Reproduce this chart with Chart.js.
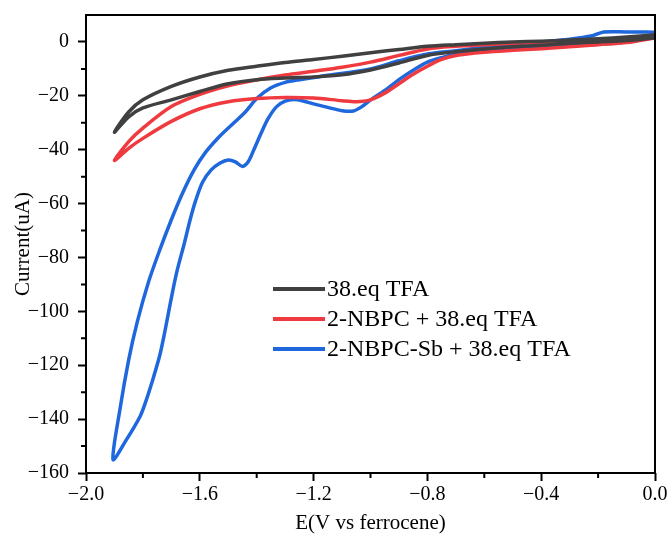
<!DOCTYPE html>
<html>
<head>
<meta charset="utf-8">
<script src="https://cdn.jsdelivr.net/npm/chart.js@4.4.0/dist/chart.umd.min.js"></script>
<style>
  html, body { margin: 0; padding: 0; background: #fff; }
  #wrap { width: 671px; height: 542px; position: relative; }
</style>
</head>
<body>
<div id="wrap"><canvas id="cv"></canvas></div>
<script>
// CV loops: start at 0 V, sweep to -1.9 V, then back to 0 V
const tfaE = [0.0, -0.1, -0.2, -0.3, -0.4, -0.5, -0.6, -0.7, -0.8, -0.9, -1.0, -1.1, -1.2, -1.3, -1.4, -1.5, -1.6, -1.7, -1.8, -1.85, -1.9,
              -1.85, -1.8, -1.7, -1.6, -1.5, -1.4, -1.3, -1.2, -1.1, -1.0, -0.9, -0.8, -0.7, -0.6, -0.5, -0.4, -0.3, -0.2, -0.1, 0.0];
const tfaI = [1.5, 0.5, 0.0, -0.5, -1.2, -1.8, -2.6, -3.6, -5.0, -7.8, -10.4, -12.2, -13.0, -13.4, -14.0, -15.5, -18.4, -21.5, -24.5, -27.8, -33.5,
              -26.0, -21.5, -16.5, -13.0, -10.5, -9.0, -7.6, -6.5, -5.3, -4.0, -2.8, -1.6, -1.0, -0.5, 0.0, 0.3, 0.7, 1.2, 1.8, 2.6];

const nbpcE = [0.0, -0.1, -0.2, -0.3, -0.4, -0.5, -0.6, -0.7, -0.75, -0.8, -0.85, -0.9, -0.95, -1.0, -1.05, -1.1, -1.2, -1.3, -1.4, -1.5, -1.6, -1.7, -1.8, -1.85, -1.9,
               -1.85, -1.8, -1.7, -1.6, -1.5, -1.4, -1.3, -1.2, -1.1, -1.0, -0.9, -0.8, -0.7, -0.6, -0.5, -0.4, -0.3, -0.2, -0.1, 0.0];
const nbpcI = [1.5, -0.2, -1.0, -1.8, -2.5, -3.1, -3.8, -5.0, -6.5, -9.0, -12.0, -15.5, -19.0, -21.5, -22.2, -21.8, -20.8, -20.6, -21.0, -22.2, -24.8, -29.5, -35.8, -39.5, -44.0,
               -37.0, -32.0, -24.0, -19.5, -16.3, -14.1, -12.3, -10.9, -9.4, -7.5, -5.0, -2.6, -1.6, -1.0, -0.5, 0.0, 0.4, 0.9, 1.5, 2.5];

const sbE = [0.0, -0.05, -0.1, -0.2, -0.3, -0.4, -0.5, -0.6, -0.7, -0.75, -0.8, -0.85, -0.9, -0.95, -1.0, -1.03, -1.06, -1.1, -1.15, -1.2, -1.24, -1.27, -1.3, -1.33, -1.36, -1.385, -1.41, -1.43, -1.45, -1.475, -1.5, -1.53, -1.56, -1.59, -1.615, -1.634, -1.655, -1.68, -1.7, -1.72, -1.74, -1.77, -1.79, -1.81, -1.86, -1.905,
             -1.88, -1.85, -1.82, -1.78, -1.74, -1.7, -1.66, -1.62, -1.58, -1.53, -1.48, -1.44, -1.4, -1.35, -1.3, -1.25, -1.15, -1.0, -0.9, -0.8, -0.7, -0.6, -0.5, -0.4, -0.3, -0.22, -0.18, -0.1, -0.03, 0.0];
const sbI = [2.5, 1.2, 0.0, -0.9, -1.5, -2.0, -2.7, -3.3, -4.6, -5.8, -7.5, -10.5, -14.0, -18.0, -21.5, -24.0, -25.6, -25.5, -24.3, -23.0, -21.8, -21.4, -22.0, -24.0, -28.5, -34.0, -40.0, -44.5, -46.2, -44.5, -43.8, -45.0, -47.5, -52.0, -59.0, -66.0, -75.0, -85.0, -95.0, -106.0, -116.0, -127.0, -133.5, -139.0, -148.0, -155.0,
             -136.0, -118.0, -104.0, -89.0, -77.0, -66.0, -56.0, -47.5, -41.0, -35.0, -30.0, -26.0, -21.0, -17.0, -15.0, -14.0, -12.4, -10.0, -7.0, -4.5, -3.3, -2.0, -0.8, 0.0, 1.0, 2.3, 3.7, 3.7, 3.7, 3.5];

const seriesNames = ['38.eq TFA', '2-NBPC + 38.eq TFA', '2-NBPC-Sb + 38.eq TFA'];
const seriesColors = ['#404040', '#ef3b3f', '#1f67dc'];

const xTicks = [-2.0, -1.6, -1.2, -0.8, -0.4, 0.0];
const xMinor = [-1.8, -1.4, -1.0, -0.6, -0.2];
const yTicks = [-160, -140, -120, -100, -80, -60, -40, -20, 0];
const yMinor = [-150, -130, -110, -90, -70, -50, -30, -10];

const serif = "'Liberation Serif', 'Times New Roman', serif";
const minus = v => (v < 0 ? '\u2212' : '') + Math.abs(v);

function pts(E, I) {
    return E.map((e, i) => ({ x: e, y: I[i] }));
}

// box around the plot, short minor ticks and the legend inside the plot
const extras = {
    id: 'extras',
    afterDraw(chart) {
        const { ctx, chartArea: a, scales } = chart;
        ctx.save();
        ctx.strokeStyle = '#000';
        ctx.lineWidth = 2;
        ctx.strokeRect(a.left, a.top, a.right - a.left, a.bottom - a.top);

        ctx.beginPath();
        xMinor.forEach(v => {
            const px = scales.x.getPixelForValue(v);
            ctx.moveTo(px, a.bottom);
            ctx.lineTo(px, a.bottom + 5);
        });
        yMinor.forEach(v => {
            const py = scales.y.getPixelForValue(v);
            ctx.moveTo(a.left, py);
            ctx.lineTo(a.left - 5, py);
        });
        ctx.stroke();

        const lx = a.left + 187, ly = a.top + 274, gap = 30;
        ctx.font = '24px ' + serif;
        ctx.textBaseline = 'middle';
        ctx.fillStyle = '#000';
        seriesNames.forEach((name, i) => {
            const y = ly + i * gap;
            ctx.strokeStyle = seriesColors[i];
            ctx.lineWidth = 4;
            ctx.beginPath();
            ctx.moveTo(lx, y);
            ctx.lineTo(lx + 52, y);
            ctx.stroke();
            ctx.fillText(name, lx + 54, y + 1);
        });
        ctx.restore();
    }
};

const axisGrid = {
    drawOnChartArea: false,
    drawTicks: true,
    tickLength: 8,
    tickWidth: 2,
    tickColor: '#000',
    color: '#000'
};

new Chart(document.getElementById('cv'), {
    type: 'scatter',
    data: {
        datasets: [
            { label: seriesNames[0], data: pts(tfaE, tfaI), borderColor: seriesColors[0] },
            { label: seriesNames[1], data: pts(nbpcE, nbpcI), borderColor: seriesColors[1] },
            { label: seriesNames[2], data: pts(sbE, sbI), borderColor: seriesColors[2] }
        ]
    },
    options: {
        responsive: true,
        maintainAspectRatio: false,
        animation: false,
        showLine: true,
        layout: { padding: { top: 15, right: 16, left: 0, bottom: 0 } },
        elements: {
            point: { radius: 0 },
            line: { borderWidth: 3.5, tension: 0.3, fill: false }
        },
        plugins: {
            legend: { display: false },
            tooltip: { enabled: false }
        },
        scales: {
            x: {
                type: 'linear',
                min: -2.0,
                max: 0.0,
                afterBuildTicks: s => { s.ticks = xTicks.map(v => ({ value: v })); },
                afterFit: s => { s.height = 69; },
                ticks: {
                    color: '#000',
                    padding: 2,
                    font: { family: serif, size: 20 },
                    callback: v => minus(v).replace(/^(\u2212?\d+)$/, '$1.0').replace(/^(\u2212?\d+\.\d)\d*$/, '$1')
                },
                grid: axisGrid,
                border: { display: false },
                title: {
                    display: true,
                    text: 'E(V vs ferrocene)',
                    color: '#000',
                    font: { family: serif, size: 21 },
                    padding: { top: 0, bottom: 6 }
                }
            },
            y: {
                type: 'linear',
                min: -160,
                max: 10,
                afterBuildTicks: s => { s.ticks = yTicks.map(v => ({ value: v })); },
                // fixed axis width; top tick sits below the frame, so no extra label padding
                afterFit: s => { s.width = 86; s.paddingTop = 0; s.paddingBottom = 0; },
                ticks: {
                    color: '#000',
                    padding: 9,
                    font: { family: serif, size: 20 },
                    callback: v => minus(v)
                },
                grid: axisGrid,
                border: { display: false },
                title: {
                    display: true,
                    text: 'Current(uA)',
                    color: '#000',
                    font: { family: serif, size: 21 },
                    padding: { top: 11, bottom: 0 }
                }
            }
        }
    },
    plugins: [extras]
});
</script>
</body>
</html>
